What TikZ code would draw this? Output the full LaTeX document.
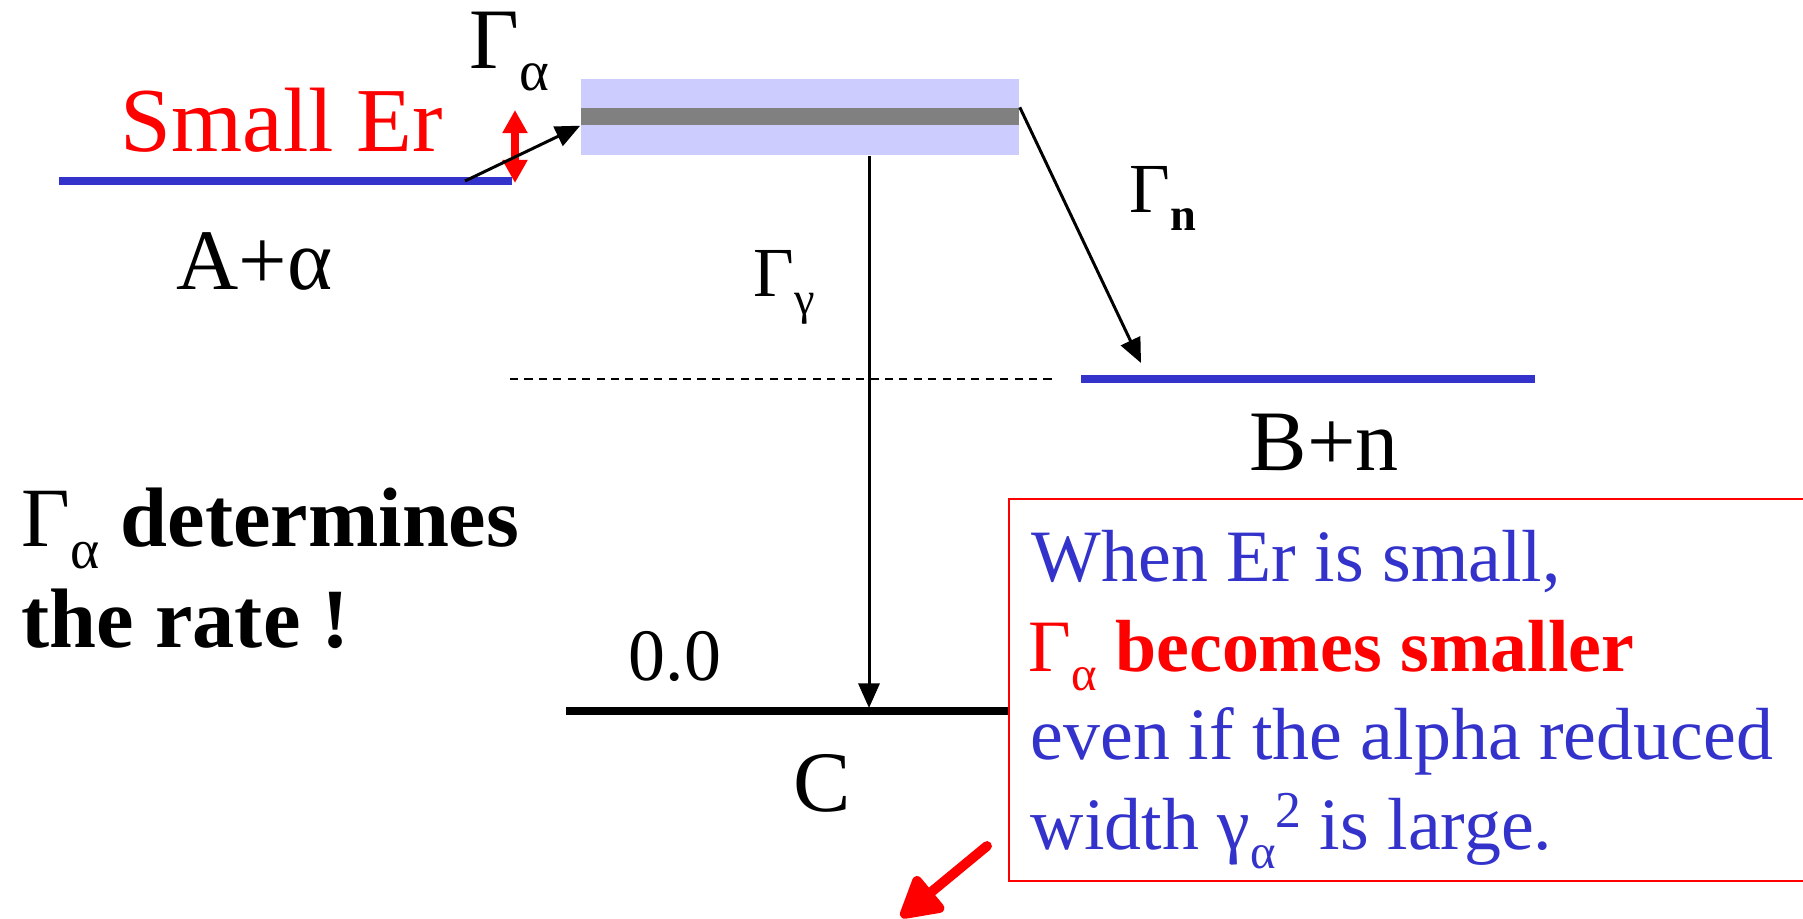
\documentclass[tikz,border=0pt]{standalone}
\usepackage{fontspec}
\setmainfont{Liberation Serif}
\usepackage{graphicx}
\usepackage{xcolor}
\definecolor{LevelBlue}{HTML}{3333CC}
\definecolor{ResBand}{HTML}{CCCCFF}
\definecolor{ResLine}{HTML}{808080}
\definecolor{Hot}{HTML}{FF0000}
\usetikzlibrary{arrows.meta}
\newcommand{\low}[1]{\raisebox{-0.25em}{\scalebox{0.66}{#1}}}
\newcommand{\high}[1]{\raisebox{0.3em}{\scalebox{0.7}{#1}}}
\tikzset{
  lvl/.style={line width=2pt,line cap=butt},
  trans/.style={-{Triangle[length=7pt,width=6pt]},line width=0.85pt},
  lvltext/.style={anchor=base west,inner sep=0pt,font=\fontsize{24.5}{29}\selectfont},
  widthtext/.style={anchor=base west,inner sep=0pt,font=\fontsize{20}{24}\selectfont},
  notetext/.style={anchor=base west,inner sep=0pt,font=\fontsize{21}{25}\selectfont,text=LevelBlue},
  resband/.style={fill=ResBand,inner sep=0pt,minimum width=124.6pt,minimum height=21.6pt},
  resline/.style={fill=ResLine,inner sep=0pt,minimum width=124.6pt,minimum height=4.84pt}
}

\begin{document}
\begin{tikzpicture}[x=0.01cm,y=-0.01cm]
  \clip (0,0) rectangle (1803,919);
  \coordinate (aL) at (59,181);   \coordinate (aR) at (512,181);
  \coordinate (bL) at (1081,379); \coordinate (bR) at (1535,379);
  \coordinate (cL) at (566,711);  \coordinate (cR) at (1009,711);
  \coordinate (thL) at (510,379); \coordinate (thR) at (1052,379);
  \coordinate (aOut) at (465,181);
  \coordinate (cHit) at (869,708);
  \coordinate (nHit) at (1141,363);
  \coordinate (erLow) at (515,183); \coordinate (erHigh) at (515,110);
  \coordinate (hintA) at (987,846); \coordinate (hintB) at (901,917);

  \node[resband] (res) at (800,117) {};
  \node[resline] (resline) at (800,116.5) {};

  \draw[lvl,LevelBlue] (aL) -- (aR);
  \draw[lvl,LevelBlue] (bL) -- (bR);
  \draw[lvl] (cL) -- (cR);
  \draw[line width=0.45pt,dash pattern=on 2.3pt off 1.8pt] (thL) -- (thR);

  \draw[Hot,line width=2.3pt,{Triangle[length=6.6pt,width=6.8pt]}-{Triangle[length=6.6pt,width=6.8pt]}] (erLow) -- (erHigh);
  \draw[trans] (aOut) -- (resline.south west);
  \draw[trans] (res.south -| cHit) -- (cHit);
  \draw[trans] (resline.north east) -- (nHit);

  \node[lvltext,text=Hot,font=\fontsize{26}{31}\selectfont] (er) at (120,152) {Small Er};
  \node[lvltext] (ga) at (469,69) {Γ\low{α}};
  \node[lvltext] (ach) at (176,290) {A+α};
  \node[widthtext] (gg) at (753,297) {Γ\low{γ}};
  \node[widthtext] (gn) at (1129,213) {Γ\low{\textbf{n}}};
  \node[lvltext] (bch) at (1249,471) {B+n};
  \node[lvltext,font=\fontsize{21}{25}\selectfont] (zero) at (628,681) {0.0};
  \node[lvltext] (cch) at (793,811) {C};
  \node[lvltext,font=\fontsize{24}{29}\selectfont\bfseries] (rate1) at (21,547) {{\mdseries Γ\low{α}} determines};
  \node[lvltext,font=\fontsize{24}{29}\selectfont\bfseries] (rate2) at (21,648) {the rate !};

  \draw[Hot,line width=0.6pt,fill=white] (1009,499) rectangle (1812,881);
  \node[notetext] (note1) at (1031,582) {When Er is small,};
  \node[notetext,text=Hot] (note2) at (1028,672) {Γ\low{α} \textbf{becomes smaller}};
  \node[notetext] (note3) at (1030,760) {even if the alpha reduced};
  \node[notetext] (note4) at (1030,850) {width γ\low{α}\high{2} is large.};

  \draw[Hot,line width=2.8pt,line cap=round,-{Triangle[length=13pt,width=14pt,round]}] (hintA) -- (hintB);
\end{tikzpicture}
\end{document}
